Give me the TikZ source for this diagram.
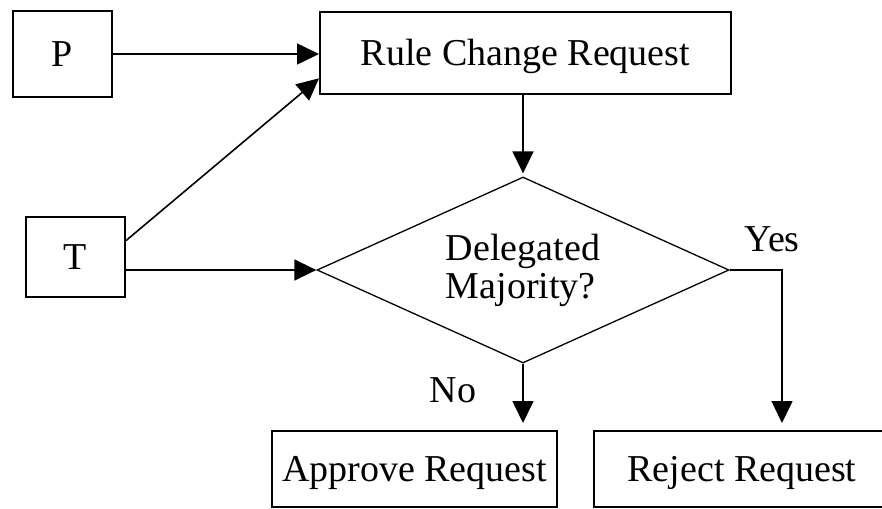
\documentclass[tikz,border=0pt]{standalone}
\usepackage{fontspec}
\setmainfont{Liberation Serif}
\usetikzlibrary{arrows.meta,shapes.geometric}
\begin{document}
\begin{tikzpicture}[x=1pt,y=-1pt,
  font=\fontsize{38}{38}\selectfont,
  box/.style={draw, line width=2pt, inner sep=0pt, text height=25pt, text depth=0pt},
  dec/.style={draw, diamond, line width=1.3pt, inner sep=0pt, aspect=2.2,
    minimum width=412pt, minimum height=186pt, align=left},
  arr/.style={line width=1.6pt, -{Triangle[length=22pt,width=21pt]}},
  lbl/.style={anchor=base, inner sep=0pt}]
\path[use as bounding box, clip] (0,0) rectangle (882,508);
\node[box, minimum width=99pt, minimum height=86pt] (P) at (62.5,54) {P};
\node[box, minimum width=411pt, minimum height=82pt] (R) at (525.5,53) {Rule Change Request};
\node[box, minimum width=99pt, minimum height=80pt] (T) at (75.5,257) {T};
\node[dec] (D) at (523,270) {Delegated\\Majority?};
\node[box, minimum width=285pt, minimum height=76pt] (A) at (414.5,469) {Approve Request};
\node[box, minimum width=296pt, minimum height=76pt] (J) at (742,469) {Reject Request};
\coordinate (Y) at (782,270);
\draw[arr] (P.east) -- (P.east -| R.west);
\draw[arr] (T.18) -- (R.187.5);
\draw[arr] (T.east |- D.west) -- (D.west);
\draw[arr, shorten >=3pt] (R.south -| D.north) -- (D.north);
\draw[arr, shorten >=7pt] (D.south) -- (D.south |- A.north);
\draw[arr, shorten >=7pt] (D.east) -- (Y) -- (Y |- J.north);
\node[lbl] (yes) at (772,251) {Yes};
\node[lbl] (no) at (453,402) {No};
\end{tikzpicture}
\end{document}
